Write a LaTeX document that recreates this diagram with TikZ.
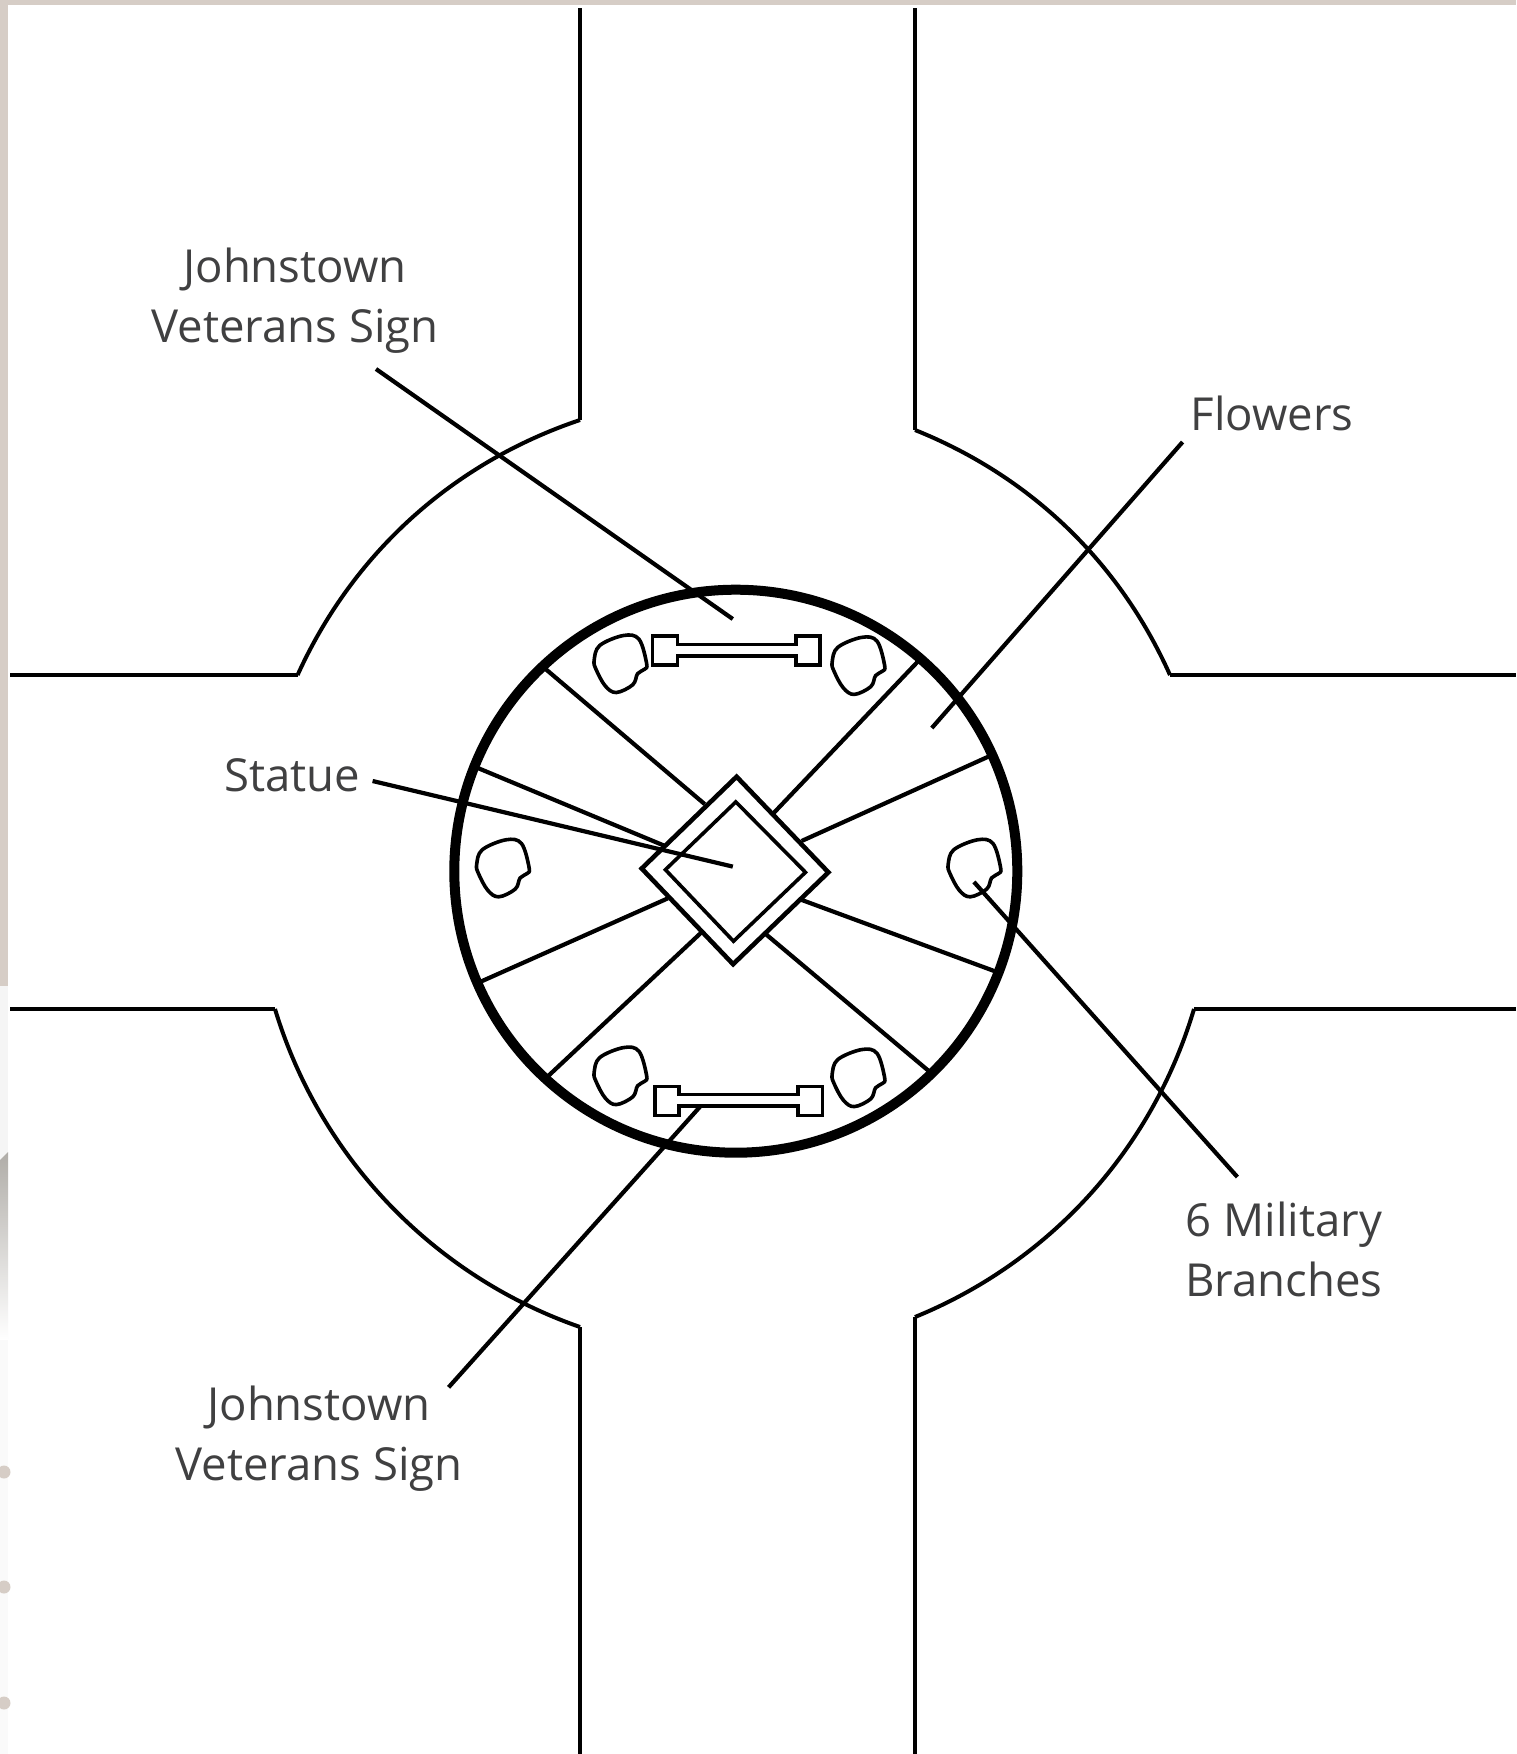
\documentclass[tikz,border=0pt]{standalone}
\usepackage{fontspec}
\setmainfont{Open Sans}
\usepackage{xcolor}
\definecolor{framegrey}{RGB}{214,205,198}
\definecolor{edgegrey}{RGB}{176,173,168}
\definecolor{textgrey}{RGB}{64,64,65}
\usetikzlibrary{positioning}

\begin{document}
\begin{tikzpicture}[
    x=1pt, y=-1pt,
    road/.style={line width=4.6pt, black},
    curb/.style={line width=4pt, black, looseness=0.9},
    spoke/.style={line width=4.2pt, black},
    leader/.style={line width=4.2pt, black},
    sign/.style={line width=3.6pt, black},
    lbl/.style={align=center, text=textgrey, inner sep=0pt,
                font=\fontsize{45.5}{60}\selectfont},
    flower/.pic={
      \draw[line width=3.6pt, black, scale=0.96] plot[smooth cycle, tension=0.6] coordinates {
        (-26.8,-3.8) (-21,-19.1) (3.8,-29.5) (19.9,-25.6) (27.9,0) (25.6,5.7)
        (18.4,10.3) (13.4,21.8) (-3.8,29.9) (-15.3,23) (-24.9,5.7)};
    },
  ]
  \useasboundingbox (0,0) rectangle (1516,1754);

  %% PAGE EDGE
  \fill[white] (0,0) rectangle (1516,1754);
  \fill[framegrey] (0,0) rectangle (1516,5);
  \fill[framegrey] (0,0) rectangle (8,986);
  \fill[black!4] (0,986) rectangle (8,1160);
  \shade[top color=edgegrey, bottom color=white] (0,1160) -- (8,1152) -- (8,1340) -- (0,1340) -- cycle;
  \fill[black!2] (0,1340) rectangle (8,1754);
  \fill[framegrey] (4,1472) circle (6.5);
  \fill[framegrey] (4,1587) circle (6.5);
  \fill[framegrey] (4,1703) circle (6.5);

  %% ROADS
  \coordinate (tlA) at (580,420);
  \coordinate (tlB) at (297.6,675);
  \coordinate (trA) at (915,430);
  \coordinate (trB) at (1170,675);
  \coordinate (blA) at (275,1009);
  \coordinate (blB) at (580,1327);
  \coordinate (brA) at (1194,1009);
  \coordinate (brB) at (915,1317);

  \draw[road] (580,8) -- (tlA);
  \draw[curb] (tlA) to[bend right=23.5] (tlB);
  \draw[road] (tlB) -- (10,675);
  \draw[road] (915,8) -- (trA);
  \draw[curb] (trA) to[bend left=22] (trB);
  \draw[road] (trB) -- (1516,675);
  \draw[road] (10,1009) -- (blA);
  \draw[curb] (blA) to[bend right=27] (blB);
  \draw[road] (blB) -- (580,1754);
  \draw[road] (1516,1009) -- (brA);
  \draw[curb] (brA) to[bend left=25.6] (brB);
  \draw[road] (brB) -- (915,1754);

  %% SPOKES
  \draw[spoke] (545.2,668.7) -- (704.8,804.2);
  \draw[spoke] (917.6,661.8) -- (773.7,813);
  \draw[spoke] (478.3,768.2) -- (665.8,846.3);
  \draw[spoke] (988,756.8) -- (801.6,841);
  \draw[spoke] (481.3,981.4) -- (667.7,898.4);
  \draw[spoke] (994.2,971) -- (801.6,899.9);
  \draw[spoke] (548.3,1075.9) -- (701,932.8);
  \draw[spoke] (928.3,1070.6) -- (766,934.3);

  %% CIRCLE AND STATUE
  \draw[line width=10pt, black] (735.8,871.2) circle (281.5);
  \draw[line width=4.6pt, black, miter limit=4] (736.6,776.7) -- (828.4,872.3) -- (733.1,964.2) -- (641.7,868.5) -- cycle;
  \draw[line width=3.6pt, black] (735.8,801.9) -- (805.5,872.3) -- (733.5,941.2) -- (665.4,869.7) -- cycle;

  %% SIGNS
  \draw[sign] (652.4,636.2) -- (677.3,636.2) -- (677.3,644.6) -- (795.9,644.6) -- (795.9,636.2) -- (820,636.2)
    -- (820,664.9) -- (795.9,664.9) -- (795.9,656.1) -- (677.3,656.1) -- (677.3,664.9) -- (652.4,664.9) -- cycle;
  \draw[sign] (655.1,1086.6) -- (679.2,1086.6) -- (679.2,1094.3) -- (797.8,1094.3) -- (797.8,1086.6) -- (822.3,1086.6)
    -- (822.3,1115.3) -- (797.8,1115.3) -- (797.8,1105.8) -- (679.2,1105.8) -- (679.2,1115.3) -- (655.1,1115.3) -- cycle;

  %% FLOWERS
  \pic at (619.9,663.8) {flower};
  \pic at (857.9,665.7) {flower};
  \pic at (502.4,868.1) {flower};
  \pic at (973.9,868.1) {flower};
  \pic at (619.9,1075.9) {flower};
  \pic at (857.9,1077.9) {flower};

  %% LABELS
  \node[lbl] (signtop)  at (295,301)  {Johnstown\\Veterans Sign};
  \node[lbl] (flowers)  at (1272,413)   {Flowers};
  \node[lbl] (statue)   at (292,775)    {Statue};
  \node[lbl] (branches) at (1284,1249)  {6 Military\\Branches};
  \node[lbl] (signlow)  at (319,1438.8) {Johnstown\\Veterans Sign};

  \coordinate (signtopend)  at (732.8,619);
  \coordinate (flowersend)  at (931.8,728);
  \coordinate (statueend)   at (732.8,866.6);
  \coordinate (branchesend) at (973.9,881.9);
  \coordinate (signlowend)  at (700.2,1106.5);

  \draw[leader] ([xshift=81pt,yshift=-68pt]signtop.center) -- (signtopend);
  \draw[leader] ([xshift=-89.4pt,yshift=-29pt]flowers.center) -- (flowersend);
  \draw[leader] ([xshift=80.6pt,yshift=-6pt]statue.center) -- (statueend);
  \draw[leader] ([xshift=-46.6pt,yshift=72pt]branches.center) -- (branchesend);
  \draw[leader] ([xshift=129.6pt,yshift=51.5pt]signlow.center) -- (signlowend);
\end{tikzpicture}
\end{document}
